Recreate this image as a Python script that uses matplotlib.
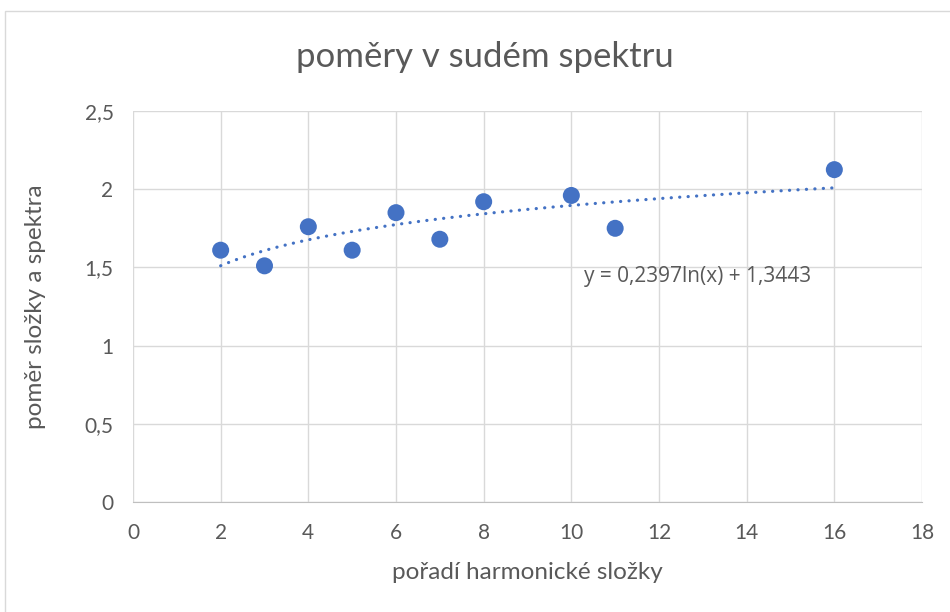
import numpy as np
import matplotlib
matplotlib.use("Agg")
import matplotlib.pyplot as plt
from matplotlib.patches import Rectangle

x_vals = [2, 3, 4, 5, 6, 7, 8, 10, 11, 16]
y_vals = [1.61, 1.51, 1.76, 1.61, 1.85, 1.68, 1.92, 1.96, 1.75, 2.125]
x_ticks = [0, 2, 4, 6, 8, 10, 12, 14, 16, 18]
y_ticks = [0, 0.5, 1, 1.5, 2, 2.5]
y_tick_labels = ["0", "0,5", "1", "1,5", "2", "2,5"]
trend_a, trend_b = 0.2397, 1.3443
title = "poměry v sudém spektru"
xlabel = "pořadí harmonické složky"
ylabel = "poměr složky a spektra"
equation = "y = 0,2397ln(x) + 1,3443"

blue = "#4472C4"
grey = "#595959"
font = ["Lato", "DejaVu Sans"]

fig = plt.figure(figsize=(9.5, 6.12), dpi=100)
fig.patches.append(Rectangle((5/950, -0.1), 1.2, 1.1 - 11/612, transform=fig.transFigure,
                             fill=False, edgecolor="#d9d9d9", linewidth=1.0))
ax = fig.add_axes([133/950, 1 - 502/612, (922 - 133)/950, (502 - 111)/612])

ax.set_xlim(0, 18)
ax.set_ylim(0, 2.5)
ax.set_xticks(x_ticks)
ax.set_xticklabels([str(t) for t in x_ticks])
ax.set_yticks(y_ticks)
ax.set_yticklabels(y_tick_labels)
ax.grid(True, color="#d9d9d9", linewidth=1.0)
ax.set_axisbelow(True)
for s in ["top", "right", "left"]:
    ax.spines[s].set_visible(False)
ax.spines["bottom"].set_color("#bfbfbf")
ax.tick_params(axis="x", length=0, labelsize=15, labelcolor=grey, pad=15)
ax.tick_params(axis="y", length=0, labelsize=15, labelcolor=grey, pad=14)
for lab in ax.get_xticklabels() + ax.get_yticklabels():
    lab.set_fontfamily(font)

xt = np.linspace(min(x_vals), max(x_vals), 300)
ax.plot(xt, trend_a * np.log(xt) + trend_b, linestyle=(0, (0.05, 2.6)), color=blue,
        linewidth=2.3, dash_capstyle="round", zorder=2)
ax.scatter(x_vals, y_vals, s=150, color=blue, edgecolors="none", zorder=3)

ax.text(10.3, 1.445, equation, fontsize=15, color=grey, family=["Open Sans", "DejaVu Sans"],
        ha="left", va="center")

fig.text(485/950, 1 - 57/612, title, fontsize=25, color=grey, family=font,
         ha="center", va="center")
ax.set_xlabel(xlabel, fontsize=17.5, color=grey, family=font, labelpad=14)
ax.set_ylabel(ylabel, fontsize=17.5, color=grey, family=font, labelpad=28)

fig.savefig("out.png", dpi=100)
